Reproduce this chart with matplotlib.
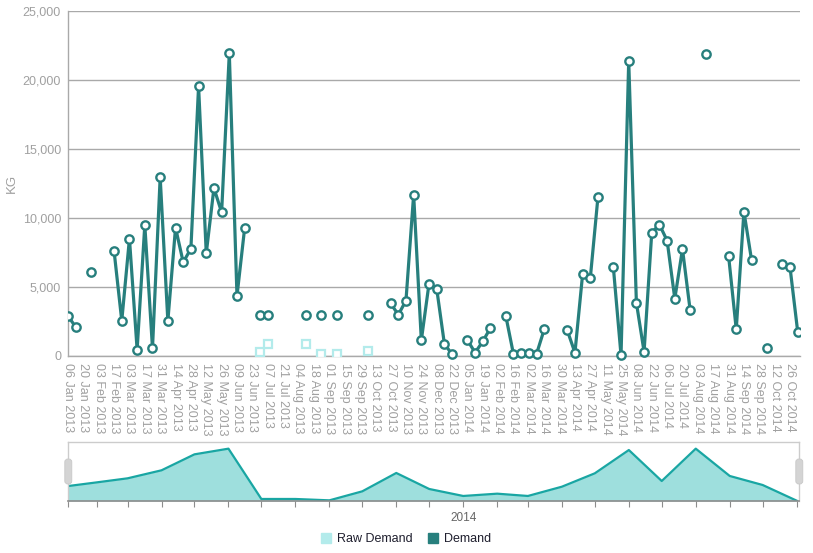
import numpy as np
import pandas as pd
import matplotlib
matplotlib.use('Agg')
import matplotlib.pyplot as plt
import matplotlib.dates as mdates
from matplotlib.lines import Line2D
from matplotlib.patches import FancyBboxPatch, Rectangle
from matplotlib.transforms import IdentityTransform

# ---------------- data ----------------
start_date = '2013-01-06'
n_weeks = 96

# weekly demand (KG); None = no value that week
demand = [
    2900, 2100, None, 6100, None, None, 7600, 2550, 8500, 450,
    9500, 560, 12950, 2540, 9300, 6790, 7780, 19540, 7440, 12170,
    10410, 21930, 4350, 9280, None, 2950, 2950, None, None, None,
    None, 2950, None, 2950, None, 2950, None, None, None, 2950,
    None, None, 3820, 2990, 4010, 11690, 1140, 5240, 4880, 890,
    120, None, 1160, 240, 1060, 2030, None, 2900, 120, 200,
    200, 150, 1930, None, None, 1860, 240, 5940, 5650, 11550,
    None, 6430, 50, 21380, 3860, 310, 8940, 9520, 8360, 4150,
    7750, 3310, None, 21910, None, None, 7270, 1930, 10460, 6930,
    None, 600, None, 6670, 6430, 1760,
]

# raw demand (week index, KG)
raw_weeks = [25, 26, 31, 33, 35, 39]
raw_values = [310, 850, 890, 140, 140, 360]

# navigator overview series (monthly points)
nav_dates = ['2013-01-06', '2013-02-01', '2013-03-01', '2013-04-01', '2013-05-01',
             '2013-06-01', '2013-07-01', '2013-08-01', '2013-09-01', '2013-10-01',
             '2013-11-01', '2013-12-01', '2014-01-01', '2014-02-01', '2014-03-01',
             '2014-04-01', '2014-05-01', '2014-06-01', '2014-07-01', '2014-08-01',
             '2014-09-01', '2014-10-01', '2014-11-01']
nav_values = [2740, 3410, 4150, 5620, 8540, 9580, 370, 370, 120, 1770,
              5130, 2200, 920, 1340, 920, 2620, 5070, 9330, 3660, 9580,
              4580, 2930, 60]

y_ticks = [0, 5000, 10000, 15000, 20000, 25000]
series_names = ['Raw Demand', 'Demand']

# ---------------- styling ----------------
TEAL = '#277f7d'
RAW = '#b3ebeb'
NAV_FILL = '#9edfdd'
NAV_LINE = '#19a6a3'
GRID = '#a9a9a9'
LABEL = '#a0a0a0'
FONT = ['Liberation Sans', 'DejaVu Sans']

plt.rcParams['font.family'] = FONT

W, H = 813, 553
fig = plt.figure(figsize=(W / 100, H / 100), dpi=100)

# ---------------- main chart ----------------
L, R, T, B = 68, 800, 11, 356
ax = fig.add_axes([L / W, (H - B) / H, (R - L) / W, (B - T) / H])

dates = pd.date_range(start_date, periods=n_weeks, freq='7D')
x = mdates.date2num(dates.to_pydatetime())
y = np.array([np.nan if v is None else v for v in demand], dtype=float)
x0 = x[0]
x_end = x0 + 95.3 * 7

line, = ax.plot(x, y, color=TEAL, lw=2.3, marker='o', ms=6.0, mfc='white',
                mec=TEAL, mew=1.7, zorder=4, solid_joinstyle='round')
clip = Rectangle((0, -0.03), 1, 1.1, transform=ax.transAxes, fill=False, lw=0)
ax.add_patch(clip)
line.set_clip_path(clip)

raw_x = x[np.array(raw_weeks)]
ax.plot(raw_x, raw_values, ls='none', marker='s', ms=5.8, mfc='white',
        mec=RAW, mew=1.6, zorder=3)

ax.set_xlim(x0, x_end)
ax.set_ylim(0, 25000)
ax.set_yticks(y_ticks)
ax.set_yticklabels([f'{v:,}' for v in y_ticks])
ax.yaxis.grid(True, color=GRID, lw=1)
ax.set_axisbelow(True)

tick_idx = np.arange(0, n_weeks - 1, 2)
ax.set_xticks(x[tick_idx])
ax.set_xticklabels([dates[i].strftime('%d %b %Y') for i in tick_idx],
                   rotation=270, ha='center', va='top')
ax.tick_params(axis='x', length=0, pad=5, labelsize=9, labelcolor=LABEL)
ax.tick_params(axis='y', length=0, pad=5, labelsize=9, labelcolor=LABEL)

for side in ['top', 'right']:
    ax.spines[side].set_visible(False)
ax.spines['left'].set_color(GRID)
ax.spines['bottom'].set_color(GRID)
ax.spines['left'].set_linewidth(1)
ax.spines['bottom'].set_linewidth(1)

fig.text(12 / W, 1 - 183 / H, 'KG', rotation=90, ha='center', va='center',
         fontsize=9.5, color=LABEL)

# ---------------- navigator ----------------
NL, NR, NT, NB = 68.3, 799.3, 442, 501
nax = fig.add_axes([NL / W, (H - NB) / H, (NR - NL) / W, (NB - NT) / H])
nd = pd.to_datetime(nav_dates)
nx = mdates.date2num(nd.to_pydatetime())
nax.fill_between(nx, 0, nav_values, color=NAV_FILL, lw=0)
nax.plot(nx, nav_values, color=NAV_LINE, lw=1.6)
nax.set_xlim(x0, x0 + 95.2 * 7)
nax.set_ylim(0, 10800)
nax.set_yticks([])
nax.set_xticks(nx)
nax.set_xticklabels([str(d.year) if (d.month == 1 and d.day == 1) else '' for d in nd])
nax.tick_params(axis='x', length=4, color='#8c8c8c', pad=4, labelsize=8.5,
                labelcolor='#666666')
for side in ['top', 'left', 'right']:
    nax.spines[side].set_color('#cccccc')
    nax.spines[side].set_linewidth(1)
nax.spines['bottom'].set_color('#8c8c8c')
nax.spines['bottom'].set_linewidth(1.2)

# navigator handles
for cx in (NL, NR):
    hb = FancyBboxPatch((cx - 3.5, H - 484), 7, 25,
                        boxstyle='round,pad=0,rounding_size=3',
                        transform=IdentityTransform(), facecolor='#d4d4d4',
                        edgecolor='#c8c8c8', lw=0.6, zorder=10)
    fig.add_artist(hb)

# ---------------- legend ----------------
handles = [
    Line2D([], [], ls='none', marker='s', ms=6.5, mfc=RAW, mec=RAW),
    Line2D([], [], ls='none', marker='s', ms=6.5, mfc=TEAL, mec=TEAL),
]
leg = fig.legend(handles, series_names, loc='center',
                 bbox_to_anchor=(406 / W, 1 - 539 / H), ncol=2, frameon=False,
                 fontsize=9, handlelength=0.8, handletextpad=0.5,
                 columnspacing=1.2, borderaxespad=0)
for t in leg.get_texts():
    t.set_color('#1f1f2e')

fig.savefig('out.png', dpi=100)
